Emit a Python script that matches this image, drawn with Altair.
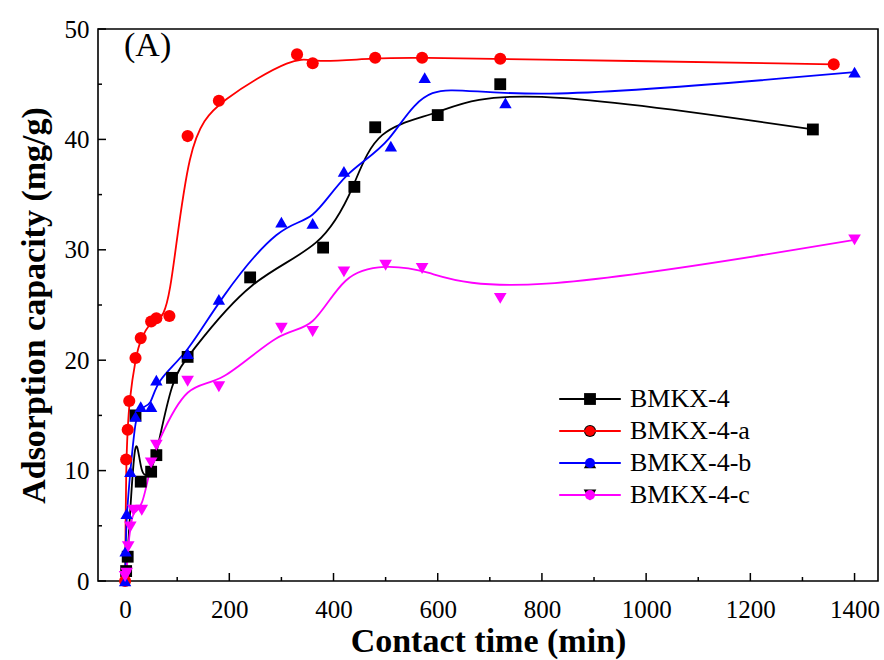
import altair as alt
import pandas as pd

series_names = ["BMKX-4", "BMKX-4-a", "BMKX-4-b", "BMKX-4-c"]
series_colors = ["#000000", "#ff0000", "#0000ff", "#ff00ff"]
series_shapes = ["square", "circle", "triangle-up", "triangle-down"]
series_sizes = [140, 160, 230, 230]

t_bmkx4 = [2, 5, 20, 30, 50, 60, 90, 120, 240, 380, 440, 480, 600, 720, 1320]
q_bmkx4 = [0.9, 2.2, 15.0, 9.0, 9.9, 11.4, 18.4, 20.3, 27.5, 30.2, 35.7, 41.1, 42.2, 45.0, 40.9]

t_bmkx4a = [0, 2, 5, 8, 20, 30, 50, 60, 85, 120, 180, 330, 360, 480, 570, 720, 1360]
q_bmkx4a = [0.0, 11.0, 13.7, 16.3, 20.2, 22.0, 23.5, 23.8, 24.0, 40.3, 43.5, 47.7, 46.9, 47.4, 47.4, 47.3, 46.8]

t_bmkx4b = [0, 1, 3, 10, 20, 30, 50, 60, 120, 180, 300, 360, 420, 510, 575, 730, 1400]
q_bmkx4b = [0.0, 2.7, 6.1, 9.9, 14.9, 15.8, 15.8, 18.2, 20.6, 25.5, 32.5, 32.4, 37.1, 39.4, 45.6, 43.3, 46.1]

t_bmkx4c = [0, 3, 6, 10, 16, 32, 50, 60, 120, 180, 300, 360, 420, 500, 570, 720, 1400]
q_bmkx4c = [0.4, 0.7, 3.1, 4.9, 6.4, 6.4, 10.7, 12.3, 18.1, 17.6, 22.9, 22.6, 28.0, 28.6, 28.3, 25.6, 30.9]

x_major = list(range(0, 1401, 200))
x_minor = list(range(100, 1400, 200))
y_major = list(range(0, 51, 10))
y_minor = list(range(5, 50, 10))

rows = []
for name, ts, qs in zip(series_names,
                        [t_bmkx4, t_bmkx4a, t_bmkx4b, t_bmkx4c],
                        [q_bmkx4, q_bmkx4a, q_bmkx4b, q_bmkx4c]):
    for t, q in zip(ts, qs):
        rows.append({"series": name, "t": t, "q": q})
df = pd.DataFrame(rows)

FONT = "Liberation Serif"
W, H = 780, 552

x_axis = alt.Axis(
    values=x_major, format="d", ticks=False, domain=False, grid=False,
    labelFont=FONT, labelFontSize=25, labelColor="black", labelPadding=16,
    title="Contact time (min)", titleFont=FONT, titleFontSize=34, titleFontWeight="bold",
    titleColor="black", titlePadding=2,
)
y_axis = alt.Axis(
    values=y_major, format="d", ticks=False, domain=False, grid=False,
    labelFont=FONT, labelFontSize=25, labelColor="black", labelPadding=9,
    title="Adsorption capacity (mg/g)", titleFont=FONT, titleFontSize=34, titleFontWeight="bold",
    titleColor="black", titlePadding=13,
)

x_scale = alt.Scale(domain=[-52, 1445], nice=False, zero=False)
y_scale = alt.Scale(domain=[0, 50], nice=False)

x_enc = alt.X("t:Q", scale=x_scale, axis=x_axis)
y_enc = alt.Y("q:Q", scale=y_scale, axis=y_axis)

LEG_X = 479
LEG_Y = 357

line_legend = alt.Legend(orient="none", legendX=LEG_X, legendY=LEG_Y, title=None,
                         symbolType="M-4.06,0H4.06", symbolSize=230, symbolStrokeWidth=2,
                         labelFont=FONT, labelFontSize=26, labelColor="black",
                         labelOffset=27, rowPadding=6)
point_legend = alt.Legend(orient="none", legendX=LEG_X, legendY=LEG_Y, title=None,
                          symbolOpacity=1,
                          labelFont=FONT, labelFontSize=26, labelOpacity=0,
                          labelOffset=27, rowPadding=6)

lines = alt.Chart(df).mark_line(interpolate="basis", strokeWidth=1.8, clip=True).encode(
    x=x_enc, y=y_enc,
    color=alt.Color("series:N", scale=alt.Scale(domain=series_names, range=series_colors),
                    legend=line_legend),
    detail="series:N",
)

points = alt.Chart(df).mark_point(filled=True, opacity=1).encode(
    x=x_enc, y=y_enc,
    color=alt.Color("series:N", scale=alt.Scale(domain=series_names, range=series_colors),
                    legend=point_legend),
    shape=alt.Shape("series:N", scale=alt.Scale(domain=series_names, range=series_shapes),
                    legend=point_legend),
    size=alt.Size("series:N", scale=alt.Scale(domain=series_names, range=series_sizes),
                  legend=point_legend),
)

# inward tick marks, placed with the same x / y scales
def x_ticks_layer(vals, length):
    return alt.Chart(pd.DataFrame({"v": vals})).mark_rule(color="black", strokeWidth=1.5).encode(
        x=alt.X("v:Q", scale=x_scale, axis=x_axis),
        y=alt.value(H), y2=alt.value(H - length))

def y_ticks_layer(vals, length):
    return alt.Chart(pd.DataFrame({"v": vals})).mark_rule(color="black", strokeWidth=1.5).encode(
        y=alt.Y("v:Q", scale=y_scale, axis=y_axis),
        x=alt.value(0), x2=alt.value(length))

label_df = pd.DataFrame({"label": ["(A)"]})
panel = alt.Chart(label_df).mark_text(font=FONT, fontSize=34, align="left", baseline="middle",
                                       color="black").encode(
    text="label:N", x=alt.value(26), y=alt.value(17))

chart = alt.layer(
    x_ticks_layer(x_major, 8), x_ticks_layer(x_minor, 4),
    y_ticks_layer(y_major, 8), y_ticks_layer(y_minor, 4),
    lines, points, panel,
).resolve_scale(color="independent").properties(
    width=W, height=H,
    padding={"left": 98, "top": 29, "right": 6, "bottom": 79},
    autosize=alt.AutoSizeParams(type="none"),
    background="white",
).configure_view(stroke="black", strokeWidth=1.6)

chart.save("out.html", embed_options={"renderer": "svg", "actions": False})
